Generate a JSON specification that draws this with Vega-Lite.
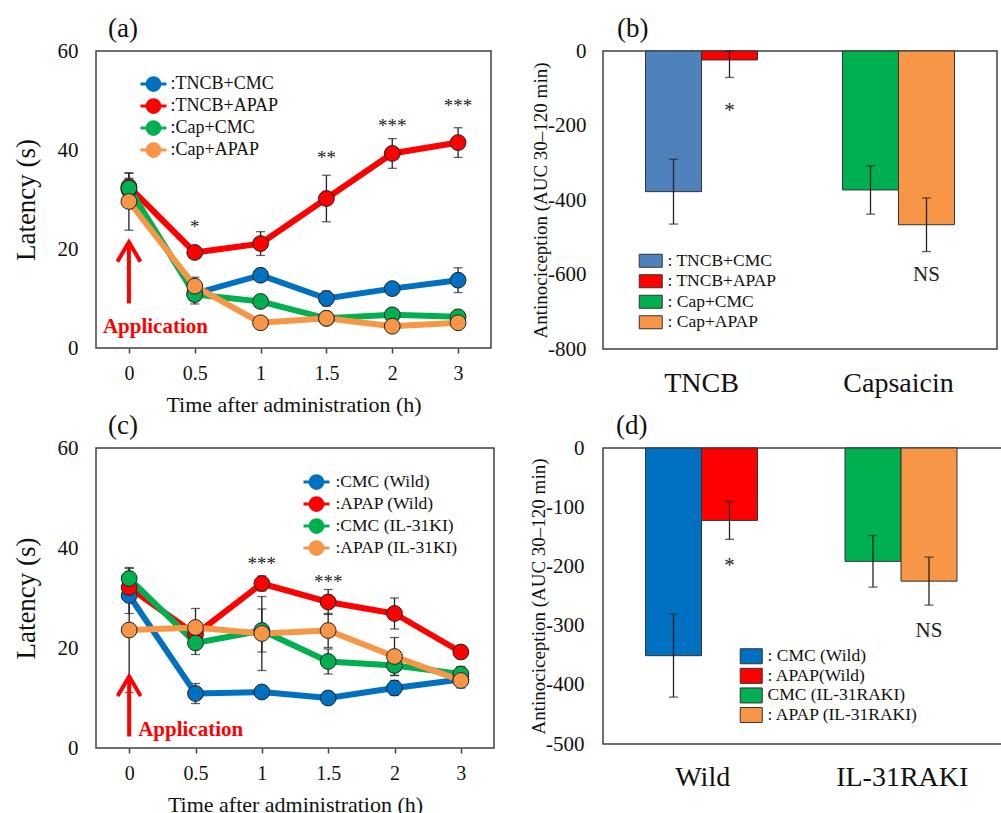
{
  "$schema": "https://vega.github.io/schema/vega-lite/v6.json",
  "background": "white",
  "padding": {"left": 11, "top": 14, "right": 0, "bottom": 0},
  "config": {
    "font": "Liberation Serif",
    "view": {"stroke": "#404040", "strokeWidth": 1.5},
    "axis": {"labelFont": "Liberation Serif", "titleFont": "Liberation Serif", "labelColor": "#111", "titleColor": "#111", "titleFontWeight": "normal", "grid": false, "domain": false},
    "legend": {"labelFont": "Liberation Serif", "labelColor": "#111"},
    "title": {"font": "Liberation Serif", "fontWeight": "normal", "color": "#111"},
    "text": {"font": "Liberation Serif"}
  },
  "datasets": {
    "a": [
      {"g": "TNCB+CMC", "t": "0", "m": 32.0, "e": 2.0},
      {"g": "TNCB+CMC", "t": "0.5", "m": 11.0, "e": 1.5},
      {"g": "TNCB+CMC", "t": "1", "m": 14.7, "e": 1.0},
      {"g": "TNCB+CMC", "t": "1.5", "m": 10.0, "e": 1.5},
      {"g": "TNCB+CMC", "t": "2", "m": 12.0, "e": 1.2},
      {"g": "TNCB+CMC", "t": "3", "m": 13.7, "e": 2.5},
      {"g": "TNCB+APAP", "t": "0", "m": 32.6, "e": 2.7},
      {"g": "TNCB+APAP", "t": "0.5", "m": 19.3, "e": 1.0},
      {"g": "TNCB+APAP", "t": "1", "m": 21.1, "e": 2.4},
      {"g": "TNCB+APAP", "t": "1.5", "m": 30.2, "e": 4.7},
      {"g": "TNCB+APAP", "t": "2", "m": 39.3, "e": 3.0},
      {"g": "TNCB+APAP", "t": "3", "m": 41.5, "e": 3.0},
      {"g": "Cap+CMC", "t": "0", "m": 32.3, "e": 2.0},
      {"g": "Cap+CMC", "t": "0.5", "m": 10.8, "e": 1.9},
      {"g": "Cap+CMC", "t": "1", "m": 9.4, "e": 1.0},
      {"g": "Cap+CMC", "t": "1.5", "m": 6.0, "e": 0.8},
      {"g": "Cap+CMC", "t": "2", "m": 6.7, "e": 0.8},
      {"g": "Cap+CMC", "t": "3", "m": 6.3, "e": 0.8},
      {"g": "Cap+APAP", "t": "0", "m": 29.6, "e": 5.8},
      {"g": "Cap+APAP", "t": "0.5", "m": 12.5, "e": 1.8},
      {"g": "Cap+APAP", "t": "1", "m": 5.1, "e": 0.8},
      {"g": "Cap+APAP", "t": "1.5", "m": 6.0, "e": 0.8},
      {"g": "Cap+APAP", "t": "2", "m": 4.4, "e": 0.8},
      {"g": "Cap+APAP", "t": "3", "m": 5.1, "e": 0.8}
    ],
    "aSig": [
      {"t": "0.5", "y": 24.4, "label": "*"},
      {"t": "1.5", "y": 38.4, "label": "**"},
      {"t": "2", "y": 44.9, "label": "***"},
      {"t": "3", "y": 48.9, "label": "***"}
    ],
    "aApp": [{"t": "0", "y": 4.2, "label": "Application"}],
    "aArrow": [{"t": "0", "y": 9.0, "y2": 21.4}],
    "c": [
      {"g": "CMC (Wild)", "t": "0", "m": 30.5, "e": 3.6},
      {"g": "CMC (Wild)", "t": "0.5", "m": 10.9, "e": 2.0},
      {"g": "CMC (Wild)", "t": "1", "m": 11.2, "e": 1.0},
      {"g": "CMC (Wild)", "t": "1.5", "m": 10.0, "e": 1.2},
      {"g": "CMC (Wild)", "t": "2", "m": 12.0, "e": 1.5},
      {"g": "CMC (Wild)", "t": "3", "m": 13.7, "e": 1.2},
      {"g": "APAP (Wild)", "t": "0", "m": 32.1, "e": 2.0},
      {"g": "APAP (Wild)", "t": "0.5", "m": 22.7, "e": 1.5},
      {"g": "APAP (Wild)", "t": "1", "m": 32.9, "e": 1.5},
      {"g": "APAP (Wild)", "t": "1.5", "m": 29.2, "e": 2.5},
      {"g": "APAP (Wild)", "t": "2", "m": 26.9, "e": 3.1},
      {"g": "APAP (Wild)", "t": "3", "m": 19.2, "e": 1.0},
      {"g": "CMC (IL-31KI)", "t": "0", "m": 33.9, "e": 2.0},
      {"g": "CMC (IL-31KI)", "t": "0.5", "m": 21.0, "e": 2.3},
      {"g": "CMC (IL-31KI)", "t": "1", "m": 23.5, "e": 4.3},
      {"g": "CMC (IL-31KI)", "t": "1.5", "m": 17.3, "e": 2.5},
      {"g": "CMC (IL-31KI)", "t": "2", "m": 16.5, "e": 2.0},
      {"g": "CMC (IL-31KI)", "t": "3", "m": 14.8, "e": 1.5},
      {"g": "APAP (IL-31KI)", "t": "0", "m": 23.6, "e": 12.5},
      {"g": "APAP (IL-31KI)", "t": "0.5", "m": 24.1, "e": 3.8},
      {"g": "APAP (IL-31KI)", "t": "1", "m": 22.9, "e": 7.4},
      {"g": "APAP (IL-31KI)", "t": "1.5", "m": 23.5, "e": 3.4},
      {"g": "APAP (IL-31KI)", "t": "2", "m": 18.3, "e": 3.8},
      {"g": "APAP (IL-31KI)", "t": "3", "m": 13.5, "e": 1.5}
    ],
    "cSig": [
      {"t": "1", "y": 36.9, "label": "***"},
      {"t": "1.5", "y": 33.2, "label": "***"}
    ],
    "cApp": [{"t": "0", "y": 3.7, "label": "Application"}],
    "cArrow": [{"t": "0", "y": 2.3, "y2": 14.3}],
    "b": [
      {"cat": "TNCB", "d": "CMC", "g": "TNCB+CMC", "m": -377.6, "e": 87},
      {"cat": "TNCB", "d": "APAP", "g": "TNCB+APAP", "m": -24, "e": 47},
      {"cat": "Capsaicin", "d": "CMC", "g": "Cap+CMC", "m": -373, "e": 65},
      {"cat": "Capsaicin", "d": "APAP", "g": "Cap+APAP", "m": -466.4, "e": 72}
    ],
    "bSig": [
      {"cat": "TNCB", "d": "APAP", "y": -160, "label": "*"},
      {"cat": "Capsaicin", "d": "APAP", "y": -601, "label": "NS"}
    ],
    "d": [
      {"cat": "Wild", "d": "CMC", "g": "CMC (Wild)", "m": -350.8, "e": 70},
      {"cat": "Wild", "d": "APAP", "g": "APAP(Wild)", "m": -122.3, "e": 32},
      {"cat": "IL-31RAKI", "d": "CMC", "g": "CMC (IL-31RAKI)", "m": -191.5, "e": 43.5},
      {"cat": "IL-31RAKI", "d": "APAP", "g": "APAP (IL-31RAKI)", "m": -224.9, "e": 40.5}
    ],
    "dSig": [
      {"cat": "Wild", "d": "APAP", "y": -200, "label": "*"},
      {"cat": "IL-31RAKI", "d": "APAP", "y": -309.6, "label": "NS"}
    ]
  },
  "columns": 2,
  "bounds": "flush",
  "spacing": {"row": 99, "column": 109},
  "resolve": {"scale": {"color": "independent"}, "legend": {"color": "independent"}},
  "concat": [
    {
      "name": "pa",
      "width": 395,
      "height": 297,
      "title": {"text": "(a)", "anchor": "start", "frame": "group", "dx": 12, "offset": -3, "fontSize": 27, "font": "Liberation Serif"},
      "encoding": {
        "x": {"field": "t", "type": "ordinal", "scale": {"type": "point", "padding": 0.5, "domain": ["0", "0.5", "1", "1.5", "2", "3"]},
          "axis": {"title": "Time after administration (h)", "titleFontSize": 22, "labelFontSize": 20, "labelFont": "Liberation Serif", "titleFont": "Liberation Serif", "labelAngle": 0, "ticks": true, "tickSize": 5, "tickColor": "#404040", "tickWidth": 1.5, "labelPadding": 10, "titlePadding": 11}}
      },
      "layer": [
        {"data": {"name": "a"}, "mark": {"type": "errorbar", "ticks": {"size": 9}, "color": "#222", "thickness": 1.3},
          "encoding": {"y": {"field": "m", "type": "quantitative", "scale": {"domain": [0, 60], "nice": false},
            "axis": {"values": [0, 20, 40, 60], "ticks": false, "labelPadding": 18, "labelFontSize": 21, "labelFont": "Liberation Serif", "titleFont": "Liberation Serif", "title": "Latency (s)", "titleFontSize": 27, "titlePadding": 17}},
            "yError": {"field": "e"}}},
        {"data": {"name": "a"}, "mark": {"type": "line", "strokeWidth": 6},
          "encoding": {"y": {"field": "m", "type": "quantitative", "scale": {"domain": [0, 60], "nice": false},
            "axis": {"values": [0, 20, 40, 60], "ticks": false, "labelPadding": 18, "labelFontSize": 21, "labelFont": "Liberation Serif", "titleFont": "Liberation Serif", "title": "Latency (s)", "titleFontSize": 27, "titlePadding": 17}},
            "color": {"field": "g", "type": "nominal", "scale": {"domain": ["TNCB+CMC", "TNCB+APAP", "Cap+CMC", "Cap+APAP"], "range": ["#0070c0", "#ff0000", "#00b050", "#f79646"]},
              "legend": {"orient": "none", "legendX": 48.5, "legendY": 24, "title": null, "labelFont": "Liberation Serif", "labelFontSize": 18, "labelOffset": 8, "symbolType": "M-1.73,0L-0.85,0M0.85,0L1.73,0M-0.85,0A0.85,0.85,0,1,0,0.85,0A0.85,0.85,0,1,0,-0.85,0Z", "symbolSize": 225, "symbolStrokeWidth": 3, "symbolOpacity": 1, "rowPadding": -4, "labelExpr": "':' + datum.label"}}}},
        {"data": {"name": "a"}, "mark": {"type": "point", "filled": true, "size": 250, "stroke": "#222", "strokeWidth": 1, "opacity": 1},
          "encoding": {"y": {"field": "m", "type": "quantitative", "scale": {"domain": [0, 60], "nice": false},
            "axis": {"values": [0, 20, 40, 60], "ticks": false, "labelPadding": 18, "labelFontSize": 21, "labelFont": "Liberation Serif", "titleFont": "Liberation Serif", "title": "Latency (s)", "titleFontSize": 27, "titlePadding": 17}},
            "color": {"field": "g", "type": "nominal", "scale": {"domain": ["TNCB+CMC", "TNCB+APAP", "Cap+CMC", "Cap+APAP"], "range": ["#0070c0", "#ff0000", "#00b050", "#f79646"]},
              "legend": {"orient": "none", "legendX": 48.5, "legendY": 24, "title": null, "labelFont": "Liberation Serif", "labelFontSize": 18, "labelOffset": 8, "symbolType": "M-1.73,0L-0.85,0M0.85,0L1.73,0M-0.85,0A0.85,0.85,0,1,0,0.85,0A0.85,0.85,0,1,0,-0.85,0Z", "symbolSize": 225, "symbolStrokeWidth": 3, "symbolOpacity": 1, "rowPadding": -4, "labelExpr": "':' + datum.label"}}}},
        {"data": {"name": "aSig"}, "mark": {"type": "text", "fontSize": 19, "color": "#222", "font": "Liberation Serif"},
          "encoding": {"y": {"field": "y", "type": "quantitative", "scale": {"domain": [0, 60], "nice": false},
            "axis": {"values": [0, 20, 40, 60], "ticks": false, "labelPadding": 18, "labelFontSize": 21, "labelFont": "Liberation Serif", "titleFont": "Liberation Serif", "title": "Latency (s)", "titleFontSize": 27, "titlePadding": 17}},
            "text": {"field": "label"}}},
        {"data": {"name": "aArrow"}, "mark": {"type": "rule", "color": "#ff0000", "strokeWidth": 4},
          "encoding": {"y": {"field": "y", "type": "quantitative", "scale": {"domain": [0, 60], "nice": false},
            "axis": {"values": [0, 20, 40, 60], "ticks": false, "labelPadding": 18, "labelFontSize": 21, "labelFont": "Liberation Serif", "titleFont": "Liberation Serif", "title": "Latency (s)", "titleFontSize": 27, "titlePadding": 17}},
            "y2": {"field": "y2"}}},
        {"data": {"name": "aArrow"}, "mark": {"type": "point", "shape": "M-1,1.7L0,0L1,1.7", "size": 529, "filled": false, "color": "#ff0000", "strokeWidth": 4, "opacity": 1},
          "encoding": {"y": {"field": "y2", "type": "quantitative", "scale": {"domain": [0, 60], "nice": false},
            "axis": {"values": [0, 20, 40, 60], "ticks": false, "labelPadding": 18, "labelFontSize": 21, "labelFont": "Liberation Serif", "titleFont": "Liberation Serif", "title": "Latency (s)", "titleFontSize": 27, "titlePadding": 17}}}},
        {"data": {"name": "aApp"}, "mark": {"type": "text", "align": "left", "dx": -26, "fontSize": 21, "fontWeight": "bold", "color": "#ff0000", "font": "Liberation Serif"},
          "encoding": {"y": {"field": "y", "type": "quantitative", "scale": {"domain": [0, 60], "nice": false},
            "axis": {"values": [0, 20, 40, 60], "ticks": false, "labelPadding": 18, "labelFontSize": 21, "labelFont": "Liberation Serif", "titleFont": "Liberation Serif", "title": "Latency (s)", "titleFontSize": 27, "titlePadding": 17}},
            "text": {"field": "label"}}}
      ]
    },
    {
      "name": "pb",
      "width": 394,
      "height": 298,
      "title": {"text": "(b)", "anchor": "start", "frame": "group", "dx": 14, "offset": -3, "fontSize": 27, "font": "Liberation Serif"},
      "encoding": {
        "x": {"field": "cat", "type": "nominal", "sort": ["TNCB", "Capsaicin"], "scale": {"paddingInner": 0, "paddingOuter": 0},
          "axis": {"title": null, "labelAngle": 0, "labelFontSize": 28, "labelFont": "Liberation Serif", "ticks": false, "labelPadding": 20}},
        "xOffset": {"field": "d", "type": "nominal", "sort": ["CMC", "APAP"], "scale": {"paddingInner": 0, "paddingOuter": 0.759}}
      },
      "layer": [
        {"data": {"name": "b"}, "mark": {"type": "bar", "stroke": "#333", "strokeWidth": 1},
          "encoding": {"y": {"field": "m", "type": "quantitative", "scale": {"domain": [-800, 0], "nice": false, "clamp": true},
            "axis": {"values": [-800, -600, -400, -200, 0], "ticks": false, "labelPadding": 17, "labelFontSize": 21, "labelFont": "Liberation Serif", "titleFont": "Liberation Serif", "labelExpr": "toString(datum.value)", "title": "Antinociception (AUC 30–120 min)", "titleFontSize": 19, "titlePadding": -3}},
            "color": {"field": "g", "type": "nominal", "scale": {"domain": ["TNCB+CMC", "TNCB+APAP", "Cap+CMC", "Cap+APAP"], "range": ["#4f81bd", "#ff0000", "#00b050", "#f79646"]},
              "legend": {"orient": "none", "legendX": 39, "legendY": 201, "title": null, "labelFont": "Liberation Serif", "labelFontSize": 17.5, "labelOffset": 8, "symbolType": "M-1.77,-1H1.77V1H-1.77Z", "symbolSize": 169, "symbolStrokeWidth": 1, "symbolOpacity": 1, "rowPadding": 1.5, "labelExpr": "': ' + datum.label"}}}},
        {"data": {"name": "b"}, "mark": {"type": "errorbar", "ticks": {"size": 9}, "color": "#222", "thickness": 1.3},
          "encoding": {"y": {"field": "m", "type": "quantitative", "scale": {"domain": [-800, 0], "nice": false, "clamp": true},
            "axis": {"values": [-800, -600, -400, -200, 0], "ticks": false, "labelPadding": 17, "labelFontSize": 21, "labelFont": "Liberation Serif", "titleFont": "Liberation Serif", "labelExpr": "toString(datum.value)", "title": "Antinociception (AUC 30–120 min)", "titleFontSize": 19, "titlePadding": -3}},
            "yError": {"field": "e"}}},
        {"data": {"name": "bSig"}, "mark": {"type": "text", "fontSize": 21, "color": "#222", "font": "Liberation Serif"},
          "encoding": {"y": {"field": "y", "type": "quantitative", "scale": {"domain": [-800, 0], "nice": false, "clamp": true},
            "axis": {"values": [-800, -600, -400, -200, 0], "ticks": false, "labelPadding": 17, "labelFontSize": 21, "labelFont": "Liberation Serif", "titleFont": "Liberation Serif", "labelExpr": "toString(datum.value)", "title": "Antinociception (AUC 30–120 min)", "titleFontSize": 19, "titlePadding": -3}},
            "text": {"field": "label"}}}
      ]
    },
    {
      "name": "pc",
      "width": 398,
      "height": 300,
      "title": {"text": "(c)", "anchor": "start", "frame": "group", "dx": 12, "offset": -3, "fontSize": 27, "font": "Liberation Serif"},
      "encoding": {
        "x": {"field": "t", "type": "ordinal", "scale": {"type": "point", "padding": 0.5, "domain": ["0", "0.5", "1", "1.5", "2", "3"]},
          "axis": {"title": "Time after administration (h)", "titleFontSize": 22, "labelFontSize": 20, "labelFont": "Liberation Serif", "titleFont": "Liberation Serif", "labelAngle": 0, "ticks": true, "tickSize": 5, "tickColor": "#404040", "tickWidth": 1.5, "labelPadding": 10, "titlePadding": 11}}
      },
      "layer": [
        {"data": {"name": "c"}, "mark": {"type": "errorbar", "ticks": {"size": 9}, "color": "#222", "thickness": 1.3},
          "encoding": {"y": {"field": "m", "type": "quantitative", "scale": {"domain": [0, 60], "nice": false},
            "axis": {"values": [0, 20, 40, 60], "ticks": false, "labelPadding": 18, "labelFontSize": 21, "labelFont": "Liberation Serif", "titleFont": "Liberation Serif", "title": "Latency (s)", "titleFontSize": 27, "titlePadding": 17}},
            "yError": {"field": "e"}}},
        {"data": {"name": "c"}, "mark": {"type": "line", "strokeWidth": 6},
          "encoding": {"y": {"field": "m", "type": "quantitative", "scale": {"domain": [0, 60], "nice": false},
            "axis": {"values": [0, 20, 40, 60], "ticks": false, "labelPadding": 18, "labelFontSize": 21, "labelFont": "Liberation Serif", "titleFont": "Liberation Serif", "title": "Latency (s)", "titleFontSize": 27, "titlePadding": 17}},
            "color": {"field": "g", "type": "nominal", "scale": {"domain": ["CMC (Wild)", "APAP (Wild)", "CMC (IL-31KI)", "APAP (IL-31KI)"], "range": ["#0070c0", "#ff0000", "#00b050", "#f79646"]},
              "legend": {"orient": "none", "legendX": 211.5, "legendY": 25, "title": null, "labelFont": "Liberation Serif", "labelFontSize": 17.5, "labelOffset": 10, "symbolType": "M-1.73,0L-0.85,0M0.85,0L1.73,0M-0.85,0A0.85,0.85,0,1,0,0.85,0A0.85,0.85,0,1,0,-0.85,0Z", "symbolSize": 225, "symbolStrokeWidth": 3, "symbolOpacity": 1, "rowPadding": -4, "labelExpr": "':' + datum.label"}}}},
        {"data": {"name": "c"}, "mark": {"type": "point", "filled": true, "size": 250, "stroke": "#222", "strokeWidth": 1, "opacity": 1},
          "encoding": {"y": {"field": "m", "type": "quantitative", "scale": {"domain": [0, 60], "nice": false},
            "axis": {"values": [0, 20, 40, 60], "ticks": false, "labelPadding": 18, "labelFontSize": 21, "labelFont": "Liberation Serif", "titleFont": "Liberation Serif", "title": "Latency (s)", "titleFontSize": 27, "titlePadding": 17}},
            "color": {"field": "g", "type": "nominal", "scale": {"domain": ["CMC (Wild)", "APAP (Wild)", "CMC (IL-31KI)", "APAP (IL-31KI)"], "range": ["#0070c0", "#ff0000", "#00b050", "#f79646"]},
              "legend": {"orient": "none", "legendX": 211.5, "legendY": 25, "title": null, "labelFont": "Liberation Serif", "labelFontSize": 17.5, "labelOffset": 10, "symbolType": "M-1.73,0L-0.85,0M0.85,0L1.73,0M-0.85,0A0.85,0.85,0,1,0,0.85,0A0.85,0.85,0,1,0,-0.85,0Z", "symbolSize": 225, "symbolStrokeWidth": 3, "symbolOpacity": 1, "rowPadding": -4, "labelExpr": "':' + datum.label"}}}},
        {"data": {"name": "cSig"}, "mark": {"type": "text", "fontSize": 19, "color": "#222", "font": "Liberation Serif"},
          "encoding": {"y": {"field": "y", "type": "quantitative", "scale": {"domain": [0, 60], "nice": false},
            "axis": {"values": [0, 20, 40, 60], "ticks": false, "labelPadding": 18, "labelFontSize": 21, "labelFont": "Liberation Serif", "titleFont": "Liberation Serif", "title": "Latency (s)", "titleFontSize": 27, "titlePadding": 17}},
            "text": {"field": "label"}}},
        {"data": {"name": "cArrow"}, "mark": {"type": "rule", "color": "#ff0000", "strokeWidth": 4},
          "encoding": {"y": {"field": "y", "type": "quantitative", "scale": {"domain": [0, 60], "nice": false},
            "axis": {"values": [0, 20, 40, 60], "ticks": false, "labelPadding": 18, "labelFontSize": 21, "labelFont": "Liberation Serif", "titleFont": "Liberation Serif", "title": "Latency (s)", "titleFontSize": 27, "titlePadding": 17}},
            "y2": {"field": "y2"}}},
        {"data": {"name": "cArrow"}, "mark": {"type": "point", "shape": "M-1,1.7L0,0L1,1.7", "size": 529, "filled": false, "color": "#ff0000", "strokeWidth": 4, "opacity": 1},
          "encoding": {"y": {"field": "y2", "type": "quantitative", "scale": {"domain": [0, 60], "nice": false},
            "axis": {"values": [0, 20, 40, 60], "ticks": false, "labelPadding": 18, "labelFontSize": 21, "labelFont": "Liberation Serif", "titleFont": "Liberation Serif", "title": "Latency (s)", "titleFontSize": 27, "titlePadding": 17}}}},
        {"data": {"name": "cApp"}, "mark": {"type": "text", "align": "left", "dx": 9, "fontSize": 21, "fontWeight": "bold", "color": "#ff0000", "font": "Liberation Serif"},
          "encoding": {"y": {"field": "y", "type": "quantitative", "scale": {"domain": [0, 60], "nice": false},
            "axis": {"values": [0, 20, 40, 60], "ticks": false, "labelPadding": 18, "labelFontSize": 21, "labelFont": "Liberation Serif", "titleFont": "Liberation Serif", "title": "Latency (s)", "titleFontSize": 27, "titlePadding": 17}},
            "text": {"field": "label"}}}
      ]
    },
    {
      "name": "pd",
      "width": 399,
      "height": 296,
      "title": {"text": "(d)", "anchor": "start", "frame": "group", "dx": 13, "offset": -3, "fontSize": 27, "font": "Liberation Serif"},
      "encoding": {
        "x": {"field": "cat", "type": "nominal", "sort": ["Wild", "IL-31RAKI"], "scale": {"paddingInner": 0, "paddingOuter": 0},
          "axis": {"title": null, "labelAngle": 0, "labelFontSize": 28, "labelFont": "Liberation Serif", "ticks": false, "labelPadding": 19}},
        "xOffset": {"field": "d", "type": "nominal", "sort": ["CMC", "APAP"], "scale": {"paddingInner": 0, "paddingOuter": 0.75}}
      },
      "layer": [
        {"data": {"name": "d"}, "mark": {"type": "bar", "stroke": "#333", "strokeWidth": 1},
          "encoding": {"y": {"field": "m", "type": "quantitative", "scale": {"domain": [-500, 0], "nice": false, "clamp": true},
            "axis": {"values": [-500, -400, -300, -200, -100, 0], "ticks": false, "labelPadding": 19, "labelFontSize": 21, "labelFont": "Liberation Serif", "titleFont": "Liberation Serif", "labelExpr": "toString(datum.value)", "title": "Antinociception (AUC 30–120 min)", "titleFontSize": 19, "titlePadding": -3}},
            "color": {"field": "g", "type": "nominal", "scale": {"domain": ["CMC (Wild)", "APAP(Wild)", "CMC (IL-31RAKI)", "APAP (IL-31RAKI)"], "range": ["#0070c0", "#ff0000", "#00b050", "#f79646"]},
              "legend": {"orient": "none", "legendX": 139.5, "legendY": 199.5, "title": null, "labelFont": "Liberation Serif", "labelFontSize": 17.5, "labelOffset": 7.5, "symbolType": "M-1.47,-1H1.47V1H-1.47Z", "symbolSize": 225, "symbolStrokeWidth": 1, "symbolOpacity": 1, "rowPadding": -0.4, "labelExpr": "datum.label == 'CMC (IL-31RAKI)' ? '\u00a0' + datum.label : ': ' + datum.label"}}}},
        {"data": {"name": "d"}, "mark": {"type": "errorbar", "ticks": {"size": 9}, "color": "#222", "thickness": 1.3},
          "encoding": {"y": {"field": "m", "type": "quantitative", "scale": {"domain": [-500, 0], "nice": false, "clamp": true},
            "axis": {"values": [-500, -400, -300, -200, -100, 0], "ticks": false, "labelPadding": 19, "labelFontSize": 21, "labelFont": "Liberation Serif", "titleFont": "Liberation Serif", "labelExpr": "toString(datum.value)", "title": "Antinociception (AUC 30–120 min)", "titleFontSize": 19, "titlePadding": -3}},
            "yError": {"field": "e"}}},
        {"data": {"name": "dSig"}, "mark": {"type": "text", "fontSize": 21, "color": "#222", "font": "Liberation Serif"},
          "encoding": {"y": {"field": "y", "type": "quantitative", "scale": {"domain": [-500, 0], "nice": false, "clamp": true},
            "axis": {"values": [-500, -400, -300, -200, -100, 0], "ticks": false, "labelPadding": 19, "labelFontSize": 21, "labelFont": "Liberation Serif", "titleFont": "Liberation Serif", "labelExpr": "toString(datum.value)", "title": "Antinociception (AUC 30–120 min)", "titleFontSize": 19, "titlePadding": -3}},
            "text": {"field": "label"}}}
      ]
    }
  ]
}
